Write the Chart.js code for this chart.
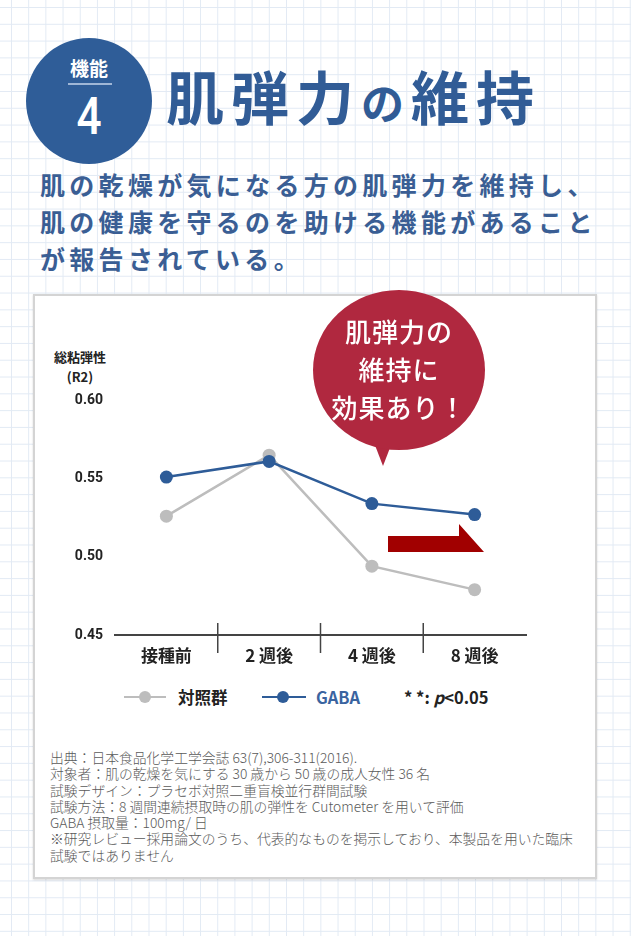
<!DOCTYPE html>
<html lang="ja">
<head>
<meta charset="utf-8">
<script src="https://cdn.jsdelivr.net/npm/chart.js@4.4.0/dist/chart.umd.min.js"></script>
<style>
  html, body { margin: 0; padding: 0; }
  body {
    width: 631px; height: 936px; position: relative; overflow: hidden;
    font-family: "Noto Sans CJK JP", "Noto Sans", sans-serif;
    background-color: #fff;
    background-image:
      linear-gradient(to right, #e2eaf4 1px, transparent 1px),
      linear-gradient(to bottom, #e2eaf4 1px, transparent 1px);
    background-size: 17.2px 16.8px;
    background-position: 11px 7px;
  }
  .badge {
    position: absolute; left: 26px; top: 38px; width: 126px; height: 126px;
    border-radius: 50%; background: #2f5d98; color: #fff; text-align: center;
  }
  .badge .k { position: absolute; left: 0; right: 0; top: 16px; font-size: 19px; font-weight: 700; }
  .badge .bar { position: absolute; left: 42px; width: 44px; top: 45px; height: 2px; background: #9fb6d6; }
  .badge .n { position: absolute; left: 0; right: 0; top: 48px; font-size: 52px; font-weight: 500; font-family: "Roboto", sans-serif; transform: scaleX(0.85); }
  .title {
    position: absolute; left: 166px; top: 55px; font-size: 58px; font-weight: 700;
    color: #315c96; letter-spacing: 7px; line-height: 80px; white-space: nowrap;
  }
  .title .no { font-size: 43px; }
  .sub {
    position: absolute; left: 40px; top: 166px; font-size: 25px; font-weight: 700;
    color: #3a5e94; letter-spacing: 4.3px; line-height: 37px; white-space: nowrap;
  }
  .box {
    position: absolute; left: 33px; top: 294px; width: 560px; height: 581px;
    background: #fff; border: 2px solid #d4d4d4; box-shadow: 0 1px 2px rgba(0,0,0,0.15);
  }
  .ylab {
    position: absolute; left: 46px; top: 347px; width: 68px; text-align: center;
    font-size: 13px; font-weight: 700; color: #222; line-height: 20px;
  }
  #wrap { position: absolute; left: 40px; top: 380px; width: 520px; height: 300px; }
  .arrow {
    position: absolute; left: 388px; top: 524px; width: 96px; height: 28px; background: #a10000;
    clip-path: polygon(0 12px, 71px 12px, 71px 0, 96px 28px, 0 28px);
  }
  .bubble {
    position: absolute; left: 313px; top: 290px; width: 172px; height: 160px; border-radius: 50%;
    background: #b0283f; color: #fff; text-align: center; font-size: 26px; font-weight: 500;
    line-height: 38px; letter-spacing: 1px;
  }
  .bubble .t { position: absolute; left: 0; right: 0; top: 22px; }
  .tail {
    position: absolute; left: 373px; top: 440px; width: 0; height: 0;
    border-left: 10px solid transparent; border-right: 10px solid transparent; border-top: 26px solid #b0283f;
  }
  .legend {
    position: absolute; top: 684px; left: 124px; height: 26px; font-size: 16.5px; font-weight: 700;
    white-space: nowrap; line-height: 26px;
  }
  .legend span { position: absolute; top: 0; }
  .lg-line { position: absolute; height: 2px; top: 12px; }
  .lg-dot { position: absolute; width: 12px; height: 12px; border-radius: 50%; top: 7px; }
  .note {
    position: absolute; left: 50px; top: 749px; font-size: 13.8px; color: #5a5a5a; line-height: 16.3px;
    white-space: nowrap; font-weight: 300;
  }
</style>
</head>
<body>
<div class="badge"><div class="k">機能</div><div class="bar"></div><div class="n">4</div></div>
<div class="title">肌弾力<span class="no">の</span>維持</div>
<div class="sub">肌の乾燥が気になる方の肌弾力を維持し、<br>肌の健康を守るのを助ける機能があること<br>が報告されている。</div>

<div class="box"></div>
<div class="ylab">総粘弾性<br>(R2)</div>
<div id="wrap"><canvas id="grafico"></canvas></div>
<div class="arrow"></div>
<div class="tail"></div>
<div class="bubble"><div class="t">肌弾力の<br>維持に<br>効果あり！</div></div>

<div class="legend">
  <div class="lg-line" style="left:0;width:42px;background:#bdbdbd"></div>
  <div class="lg-dot" style="left:15px;background:#bdbdbd"></div>
  <span style="left:54px;color:#222">対照群</span>
  <div class="lg-line" style="left:138px;width:44px;background:#2e5c98"></div>
  <div class="lg-dot" style="left:153px;background:#2e5c98"></div>
  <span style="left:192px;color:#3a64a0">GABA</span>
  <span style="left:280px;color:#222">* *: <i>p</i>&lt;0.05</span>
</div>

<div class="note">出典：日本食品化学工学会誌 63(7),306-311(2016).<br>対象者：肌の乾燥を気にする 30 歳から 50 歳の成人女性 36 名<br>試験デザイン：プラセボ対照二重盲検並行群間試験<br>試験方法：8 週間連続摂取時の肌の弾性を Cutometer を用いて評価<br>GABA 摂取量：100mg/ 日<br>※研究レビュー採用論文のうち、代表的なものを掲示しており、本製品を用いた臨床<br>試験ではありません</div>

<script>
// dados do gráfico
const semanas = ['接種前', '2 週後', '4 週後', '8 週後'];
const controle = [0.526, 0.565, 0.494, 0.479];
const gaba = [0.551, 0.561, 0.534, 0.527];
const yTicks = [0.45, 0.50, 0.55, 0.60];

// marcas verticais entre as categorias, cruzando o eixo X
const marcasEixo = {
    id: 'marcasEixo',
    afterDraw(chart) {
        const x = chart.scales.x;
        const ctx = chart.ctx;
        const base = chart.chartArea.bottom;
        ctx.save();
        ctx.strokeStyle = '#444';
        ctx.lineWidth = 1.5;
        for (let i = 1; i < semanas.length; i++) {
            const px = (x.getPixelForTick(i - 1) + x.getPixelForTick(i)) / 2;
            ctx.beginPath();
            ctx.moveTo(px, base - 12);
            ctx.lineTo(px, base + 18);
            ctx.stroke();
        }
        ctx.restore();
    }
};

function desenharGrafico() {
    const ctx = document.getElementById('grafico').getContext('2d');
    new Chart(ctx, {
        type: 'line',
        data: {
            labels: semanas,
            datasets: [{
                label: '対照群',
                data: controle,
                borderColor: '#bdbdbd',
                backgroundColor: '#bdbdbd',
                borderWidth: 2.5,
                pointRadius: 6.5,
                pointBorderWidth: 0,
                order: 2
            }, {
                label: 'GABA',
                data: gaba,
                borderColor: '#2e5c98',
                backgroundColor: '#2e5c98',
                borderWidth: 2.5,
                pointRadius: 6.5,
                pointBorderWidth: 0,
                order: 1
            }]
        },
        options: {
            responsive: true,
            maintainAspectRatio: false,
            animation: false,
            layout: { padding: { top: 18, right: 34, bottom: 0, left: 0 } },
            plugins: { legend: { display: false }, tooltip: { enabled: false } },
            scales: {
                x: {
                    offset: true,
                    grid: { display: false, drawTicks: false },
                    border: { display: true, color: '#444', width: 2 },
                    ticks: {
                        padding: 10,
                        color: '#222',
                        font: { family: '"Noto Sans CJK JP", sans-serif', size: 17, weight: 'bold' }
                    },
                    afterFit: s => { s.height = 45; }
                },
                y: {
                    min: 0.45,
                    max: 0.60,
                    afterBuildTicks: s => { s.ticks = yTicks.map(v => ({ value: v })); },
                    grid: { display: false, drawTicks: false },
                    border: { display: false },
                    ticks: {
                        padding: 12,
                        color: '#222',
                        callback: v => v.toFixed(2),
                        font: { family: 'Roboto, sans-serif', size: 14, weight: 'bold' }
                    },
                    afterFit: s => { s.width = 75; }
                }
            }
        },
        plugins: [marcasEixo]
    });
}

document.addEventListener('DOMContentLoaded', desenharGrafico);
</script>
</body>
</html>
